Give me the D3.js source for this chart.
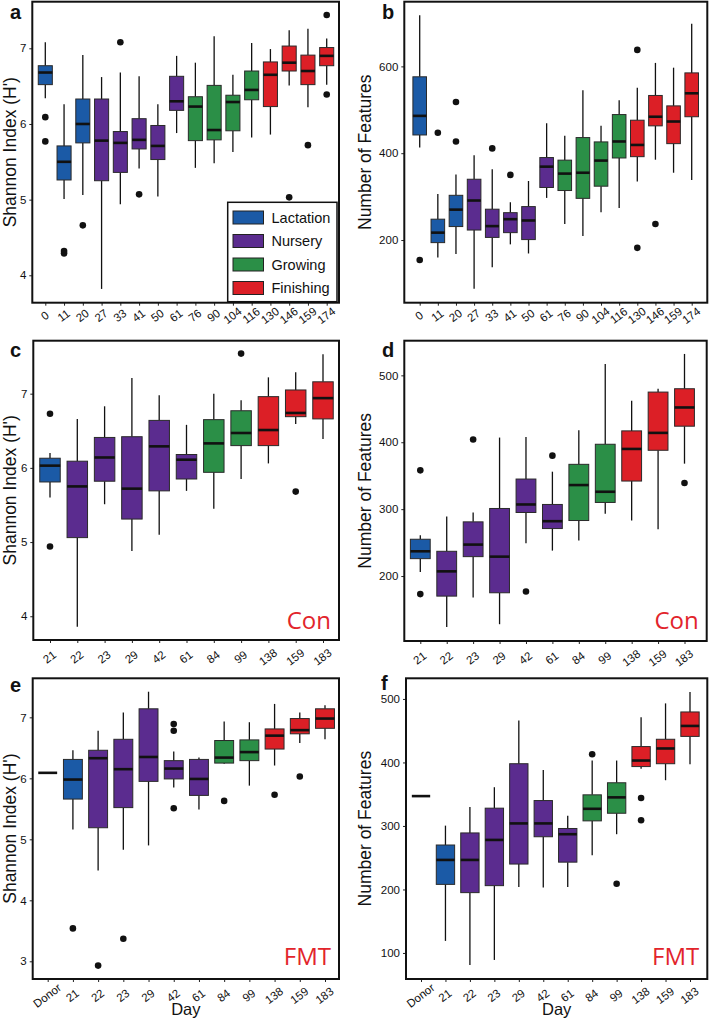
<!DOCTYPE html>
<html><head><meta charset="utf-8">
<script src="https://cdn.jsdelivr.net/npm/d3@7"></script>
<style>
body{margin:0;background:#fff;}
svg{display:block;font-family:"Liberation Sans",Arial,sans-serif;}
</style></head>
<body><svg id="chart" width="710" height="1020"></svg>
<script>
// ---------- data ----------
const stageNames = ["Lactation","Nursery","Growing","Finishing"];
const stageColors = {L:"#1b5aa6", N:"#5b2c8f", G:"#2b8f47", F:"#dc1f26"};

const abDays  = ["0","11","20","27","33","41","50","61","76","90","104","116","130","146","159","174"];
const abStage = ["L","L","L","N","N","N","N","N","G","G","G","G","F","F","F","F"];
// [low whisker, Q1, median, Q3, high whisker]
const aBox = [
 [6.34,6.52,6.68,6.77,7.08],[5.01,5.26,5.50,5.71,6.26],[5.06,5.75,6.00,6.33,6.91],[3.82,5.25,5.78,6.33,6.62],
 [4.94,5.36,5.75,5.90,6.68],[5.41,5.67,5.79,6.07,6.63],[5.04,5.53,5.71,5.98,6.26],[5.88,6.18,6.30,6.63,6.90],
 [5.42,5.78,6.23,6.36,6.81],[5.48,5.79,5.92,6.51,7.16],[5.63,5.91,6.29,6.38,6.65],[5.82,6.32,6.45,6.70,7.07],
 [5.86,6.23,6.65,6.82,6.99],[6.51,6.70,6.81,7.03,7.24],[6.22,6.52,6.70,6.91,7.26],[6.52,6.77,6.90,7.01,7.13]];
const aOut = [["0",6.09],["0",5.77],["11",4.32],["11",4.29],["20",4.66],["33",7.08],["41",5.07],["146",5.03],["159",5.72],["174",7.44],["174",6.39]];

const bBox = [
 [413,442,486,576,718],[160,194,217,248,306],[168,231,270,303,351],[88,223,291,340,395],
 [137,206,232,271,363],[190,217,248,263,287],[169,201,245,277,336],[297,321,369,390,469],
 [237,314,353,384,440],[209,296,355,436,545],[264,324,383,426,463],[274,389,427,489,522],
 [335,392,419,476,551],[385,463,484,533,608],[355,422,473,509,597],[338,484,538,585,698]];
const bOut = [["0",154],["11",447],["20",518],["20",427],["33",411],["41",350],["130",638],["130",182],["146",237]];

const cdDays  = ["21","22","23","29","42","61","84","99","138","159","183"];
const cdStage = ["L","N","N","N","N","N","G","G","F","F","F"];
const cBox = [
 [5.60,5.81,6.03,6.13,6.20],[3.86,5.06,5.75,6.09,6.66],[5.51,5.82,6.14,6.41,6.83],[4.88,5.31,5.72,6.42,7.21],
 [5.10,5.69,6.29,6.64,6.98],[5.69,5.85,6.11,6.18,6.58],[5.45,5.94,6.33,6.65,7.00],[5.85,6.30,6.47,6.77,6.91],
 [6.06,6.30,6.51,6.96,7.22],[6.59,6.69,6.74,7.05,7.29],[6.39,6.66,6.94,7.16,7.53]];
const cOut = [["21",6.73],["21",4.94],["99",7.54],["159",5.68]];

const dBox = [
 [206,226,237,255,261],[124,170,207,237,289],[168,229,247,281,295],[128,175,229,301,407],
 [249,295,307,345,408],[238,271,282,307,356],[253,283,336,367,418],[293,310,326,397,517],
 [283,342,390,417,462],[270,388,414,475,480],[368,424,452,480,532]];
const dOut = [["21",358],["21",173],["23",404],["42",177],["61",380],["183",339]];

const efDays  = ["Donor","21","22","23","29","42","61","84","99","138","159","183"];
const efStage = ["D","L","N","N","N","N","N","G","G","F","F","F"];
const eDonor = 6.09;
const eBox = [null,
 [5.16,5.66,5.98,6.31,6.46],[4.49,5.19,6.33,6.46,6.78],[4.83,5.52,6.15,6.64,7.08],[4.90,5.95,6.35,7.14,7.42],
 [5.85,5.99,6.16,6.29,6.44],[5.49,5.72,5.99,6.31,6.34],[6.24,6.25,6.34,6.62,6.93],[5.88,6.29,6.43,6.63,6.92],
 [6.21,6.48,6.70,6.81,7.22],[6.58,6.73,6.79,6.98,7.08],[6.64,6.82,6.98,7.14,7.20]];
const eOut = [["21",3.54],["22",2.93],["23",3.37],["42",6.89],["42",6.78],["42",5.51],["84",5.63],["138",5.73],["159",6.03]];

const fDonor = 347;
const fBox = [null,
 [119,208,246.5,270,300.5],[81,195,246.5,289,330],[89,206,278,328,361],[204,240,304,398,466],
 [203,283,304,340,388],[204,243,287,296,316],[254,308,327,349,403],[287,320,345,368,403],
 [390,393.5,403,425,471],[372,398,422,436.5,493],[397,441,457.5,479.5,511]];
const fOut = [["84",413],["99",209],["138",344],["138",309]];

const shannonTicks = [4,5,6,7];
const shannonTicksE = [3,4,5,6,7];
const featTicksB = [200,400,600];
const featTicksD = [200,300,400,500];
const featTicksF = [100,200,300,400,500];

// ---------- layout ----------
const panels = [
 {letter:"a", days:abDays, stage:abStage, box:aBox, out:aOut, ticks:shannonTicks, ydom:[3.638,7.616],
  frame:[32.3,1.7,339,302.7], cx:[45.3,326.7], ytitle:"Shannon Index (H')", tx:15.5, lx:10, ly:19, xoff:12.8},
 {letter:"b", days:abDays, stage:abStage, box:bBox, out:bOut, ticks:featTicksB, ydom:[55.6,749],
  frame:[404.3,1.7,707.3,302.7], cx:[419.7,691.7], ytitle:"Number of Features", tx:371, lx:382, ly:18.5, xoff:12.8},
 {letter:"c", days:cdDays, stage:cdStage, box:cBox, out:cOut, ticks:shannonTicks, ydom:[3.68,7.714],
  frame:[33.3,340.7,339,640], cx:[50,323], ytitle:"Shannon Index (H')", tx:15.5, lx:10, ly:357, xoff:17, tag:"Con"},
 {letter:"d", days:cdDays, stage:cdStage, box:dBox, out:dOut, ticks:featTicksD, ydom:[102.9,551.8],
  frame:[404.3,340.7,706.7,641], cx:[420.3,684.5], ytitle:"Number of Features", tx:371, lx:382, ly:357, xoff:17, tag:"Con"},
 {letter:"e", days:efDays, stage:efStage, box:eBox, out:eOut, donor:eDonor, ticks:shannonTicksE, ydom:[2.71,7.64],
  frame:[32.7,678.3,339,979], cx:[47.7,325], ytitle:"Shannon Index (H')", tx:15.5, lx:10, ly:692, xoff:16.5, tag:"FMT", day:true},
 {letter:"f", days:efDays, stage:efStage, box:fBox, out:fOut, donor:fDonor, ticks:featTicksF, ydom:[59,532.5],
  frame:[406,678.3,707.3,979], cx:[421,690], ytitle:"Number of Features", tx:371, lx:381, ly:690, xoff:16.5, tag:"FMT", day:true}
];

const svg = d3.select("#chart");

panels.forEach(p => {
  const [x0,y0,x1,y1] = p.frame;
  const g = svg.append("g");
  const x = d3.scalePoint().domain(p.days).range(p.cx).padding(0);
  const y = d3.scaleLinear().domain(p.ydom).range([y1,y0]);
  const bw = x.step()*0.75;

  // axes
  const ya = g.append("g").attr("transform",`translate(${x0},0)`)
    .call(d3.axisLeft(y).tickValues(p.ticks).tickSize(3).tickPadding(3).tickFormat(d3.format("d")));
  ya.select(".domain").remove();
  ya.selectAll("line").attr("stroke","#222").attr("stroke-width",1);
  ya.selectAll("text").attr("font-size",11.5).attr("fill","#111")
    .attr("font-family","'Liberation Sans',Arial,sans-serif");

  const xa = g.append("g").attr("transform",`translate(0,${y1})`)
    .call(d3.axisBottom(x).tickSize(3));
  xa.select(".domain").remove();
  xa.selectAll("line").attr("stroke","#222").attr("stroke-width",1);
  xa.selectAll("text").attr("font-size",11.5).attr("fill","#111")
    .attr("font-family","'Liberation Sans',Arial,sans-serif")
    .attr("y",0).attr("dy","0.35em").attr("text-anchor","middle")
    .attr("transform",`translate(-1,${p.xoff}) rotate(-37)`);

  // boxes
  p.days.forEach((d,i) => {
    const cx = x(d);
    const s = p.box[i];
    if (!s) {
      g.append("line").attr("x1",cx-bw/2).attr("x2",cx+bw/2)
        .attr("y1",y(p.donor)).attr("y2",y(p.donor)).attr("stroke","#111").attr("stroke-width",2.6);
      return;
    }
    g.append("line").attr("x1",cx).attr("x2",cx).attr("y1",y(s[4])).attr("y2",y(s[3]))
      .attr("stroke","#111").attr("stroke-width",1.3);
    g.append("line").attr("x1",cx).attr("x2",cx).attr("y1",y(s[1])).attr("y2",y(s[0]))
      .attr("stroke","#111").attr("stroke-width",1.3);
    g.append("rect").attr("x",cx-bw/2).attr("width",bw)
      .attr("y",y(s[3])).attr("height",y(s[1])-y(s[3]))
      .attr("fill",stageColors[p.stage[i]]).attr("stroke","#2a2a2a").attr("stroke-width",1);
    g.append("line").attr("x1",cx-bw/2).attr("x2",cx+bw/2).attr("y1",y(s[2])).attr("y2",y(s[2]))
      .attr("stroke","#111").attr("stroke-width",2.6);
  });

  // outliers
  g.selectAll("circle.out").data(p.out).enter().append("circle")
    .attr("cx",d=>x(d[0])).attr("cy",d=>y(d[1])).attr("r",3.3).attr("fill","#111");

  // frame
  g.append("rect").attr("x",x0).attr("y",y0).attr("width",x1-x0).attr("height",y1-y0)
    .attr("fill","none").attr("stroke","#111").attr("stroke-width",2);

  // y title
  g.append("text").attr("transform",`translate(${p.tx},${(y0+y1)/2}) rotate(-90)`)
    .attr("text-anchor","middle").attr("font-size",17.5).attr("fill","#111").text(p.ytitle);

  // panel letter
  g.append("text").attr("x",p.lx).attr("y",p.ly).attr("font-size",20).attr("font-weight","bold")
    .attr("fill","#111").text(p.letter);

  // tag
  if (p.tag) {
    g.append("text").attr("x",x1-8).attr("y",p.tag==="Con"?629.3:965)
      .attr("text-anchor","end").attr("font-family","'Open Sans',sans-serif")
      .attr("font-size",24).attr("fill","#e2242b").text(p.tag);
  }
  if (p.day) {
    g.append("text").attr("x",(x0+x1)/2).attr("y",1015).attr("text-anchor","middle")
      .attr("font-size",16.5).attr("fill","#111").text("Day");
  }
});

// legend (panel a)
const lg = svg.append("g");
lg.append("rect").attr("x",227.7).attr("y",202.3).attr("width",109.3).attr("height",99.4)
  .attr("fill","#fff").attr("stroke","#111").attr("stroke-width",1.5);
const ly = d3.scalePoint().domain(stageNames).range([217.5,288]);
const keys = ["L","N","G","F"];
stageNames.forEach((n,i) => {
  lg.append("rect").attr("x",233).attr("y",ly(n)-6.5).attr("width",30.5).attr("height",13)
    .attr("fill",stageColors[keys[i]]).attr("stroke","#222").attr("stroke-width",1);
  lg.append("text").attr("x",271.5).attr("y",ly(n)).attr("dy","0.36em")
    .attr("font-size",14.5).attr("fill","#111").text(n);
});
</script></body></html>
